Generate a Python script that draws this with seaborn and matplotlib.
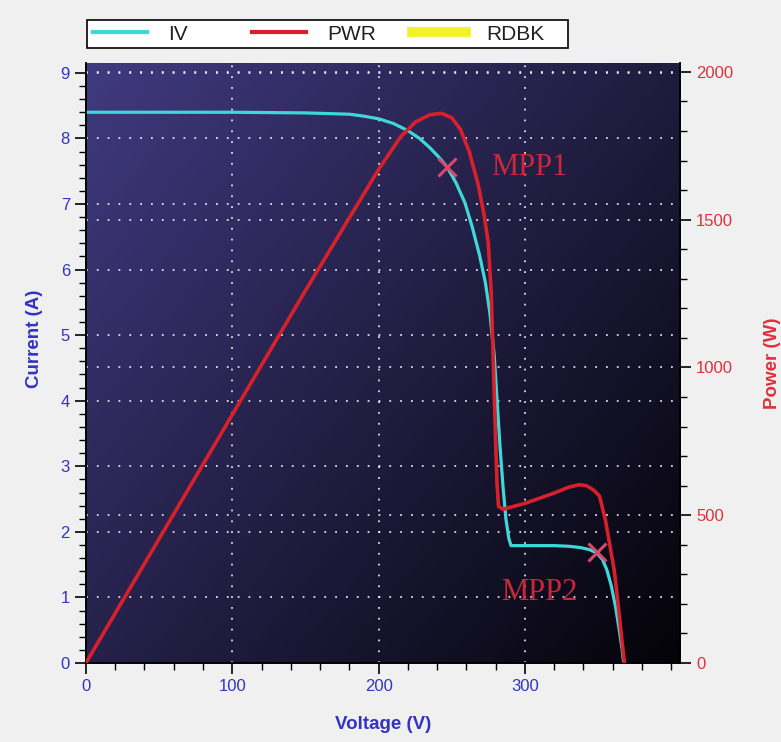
import numpy as np
import pandas as pd
import matplotlib
matplotlib.use("Agg")
import matplotlib.pyplot as plt
import seaborn as sns
from matplotlib.lines import Line2D
from matplotlib.patches import Rectangle
from matplotlib.ticker import MultipleLocator, FixedLocator

# IV curve
iv_volt = [0, 100, 150, 180, 190, 200, 210, 220, 228, 235, 241, 247, 253, 259, 264,
           269, 273, 276, 279, 281, 283, 285, 287, 289, 290.5, 300, 320, 330, 338,
           344, 349, 353, 356, 359, 362, 364.5, 366.5, 367.5]
iv_curr = [8.40, 8.40, 8.39, 8.37, 8.34, 8.30, 8.23, 8.12, 8.00, 7.86, 7.72, 7.56,
           7.32, 7.02, 6.65, 6.22, 5.80, 5.35, 4.70, 4.00, 3.30, 2.70, 2.20, 1.90,
           1.79, 1.79, 1.79, 1.78, 1.76, 1.73, 1.68, 1.58, 1.42, 1.18, 0.85, 0.50,
           0.20, 0.0]

# power curve
pw_volt = [0, 50, 100, 150, 200, 215, 225, 235, 243, 250, 256, 262, 268, 272, 275,
           277, 278.5, 280, 281, 282, 285, 300, 320, 330, 337, 342, 347, 351, 355,
           358, 361, 363, 366, 368]
pw_watt = [0, 420, 840, 1260, 1670, 1780, 1830, 1855, 1860, 1845, 1805, 1730, 1620,
           1520, 1420, 1250, 1000, 750, 600, 530, 520, 540, 575, 595, 603, 600, 585,
           565, 484, 400, 315, 230, 90, 0]

mpp_volt = [247, 349]
mpp_curr = [7.56, 1.70]
mpp_names = ["MPP1", "MPP2"]
mpp_text_volt = [277, 284]
mpp_text_curr = [7.56, 1.07]

legend_names = ["IV", "PWR", "RDBK"]
legend_colors = ["#3fd8d8", "#d8202a", "#f0f000"]

blue = "#3232c4"
red = "#e0303a"

iv_df = pd.DataFrame({"Voltage": iv_volt, "Current": iv_curr})
pw_df = pd.DataFrame({"Voltage": pw_volt, "Power": pw_watt})

plt.rcParams["font.family"] = ["Liberation Sans", "DejaVu Sans"]

fig = plt.figure(figsize=(7.81, 7.42), dpi=100, facecolor="#f0f0f0")
ax = fig.add_axes([0.110, 0.1065, 0.7607, 0.8085])
ax2 = ax.twinx()

xmax, ymax, pmax = 406, 9.15, 2030

# gradient background (light purple top-left to black bottom-right)
gx, gy = np.meshgrid(np.linspace(0, 1, 200), np.linspace(1, 0, 200))
t = np.clip(0.55 * gx + 0.45 * (1 - gy), 0, 1)
c0 = np.array([64, 58, 128]) / 255.0
c1 = np.array([4, 3, 8]) / 255.0
img = c0[None, None, :] * (1 - t[..., None]) + c1[None, None, :] * t[..., None]
ax.imshow(img, extent=[0, xmax, 0, ymax], aspect="auto", zorder=0, interpolation="bilinear")

grid_kw = dict(color="white", linestyle=(0, (1, 5)), linewidth=1.3, alpha=0.85)
for v in [100, 200, 300]:
    ax.axvline(v, zorder=1, **grid_kw)
for c in range(1, 10):
    ax.axhline(c, zorder=1, **grid_kw)
for p in [500, 1000, 1500, 2000]:
    ax2.axhline(p, zorder=1, **grid_kw)

sns.lineplot(data=iv_df, x="Voltage", y="Current", ax=ax, color=legend_colors[0],
             linewidth=2.3, sort=False, zorder=3)
sns.lineplot(data=pw_df, x="Voltage", y="Power", ax=ax2, color=legend_colors[1],
             linewidth=2.6, sort=False, zorder=3)

ax2.plot(mpp_volt, [c * pmax / ymax for c in mpp_curr], "x",
         color="#d84868", markersize=13, mew=2.2, zorder=5)
for name, tx, ty in zip(mpp_names, mpp_text_volt, mpp_text_curr):
    ax.text(tx, ty, name, color="#c8283c", fontsize=22,
            family=["Liberation Serif", "DejaVu Serif"], va="center", ha="left", zorder=6)

ax.set_xlim(0, xmax)
ax.set_ylim(0, ymax)
ax2.set_ylim(0, pmax)

ax.xaxis.set_major_locator(FixedLocator([0, 100, 200, 300]))
ax.xaxis.set_minor_locator(MultipleLocator(20))
ax.yaxis.set_major_locator(MultipleLocator(1))
ax.yaxis.set_minor_locator(MultipleLocator(0.2))
ax2.yaxis.set_major_locator(MultipleLocator(500))
ax2.yaxis.set_minor_locator(MultipleLocator(100))

ax.tick_params(axis="both", which="major", length=8, width=1.2, colors="black",
               labelsize=12, labelcolor=blue, direction="out")
ax.tick_params(axis="both", which="minor", length=5, width=1.0, colors="black", direction="out")
ax2.tick_params(axis="y", which="major", length=8, width=1.2, colors="black",
                labelsize=12, labelcolor=red, direction="out")
ax2.tick_params(axis="y", which="minor", length=5, width=1.0, colors="black", direction="out")

for a in (ax, ax2):
    for s in a.spines.values():
        s.set_color("black")
        s.set_linewidth(1.2)
    a.spines["top"].set_visible(False)

ax.set_xlabel("Voltage (V)", color=blue, fontsize=13.5, fontweight="bold", labelpad=16)
ax.set_ylabel("Current (A)", color=blue, fontsize=13.5, fontweight="bold")
ax.yaxis.set_label_coords(-0.072, 0.54)
ax2.set_ylabel("Power (W)", color=red, fontsize=13.5, fontweight="bold", labelpad=22)

# legend box above the plot: one entry per column, evenly spaced
fig.patches.append(Rectangle((0.111, 0.935), 0.616, 0.038, transform=fig.transFigure,
                             facecolor="white", edgecolor="black", linewidth=1.2,
                             zorder=1))
col_x = [0.119, 0.323, 0.527]
handles = [Line2D([], [], color=legend_colors[0], linewidth=3),
           Line2D([], [], color=legend_colors[1], linewidth=3),
           Line2D([], [], color=legend_colors[2], linewidth=7, alpha=0.85)]
for h, name, x0 in zip(handles, legend_names, col_x):
    lg = fig.legend([h], [name], loc="center left", bbox_to_anchor=(x0, 0.954),
                    frameon=False, fontsize=15, handlelength=2.6,
                    handletextpad=1.0, borderpad=0, borderaxespad=0)
    lg.set_zorder(2)
    for txt in lg.get_texts():
        txt.set_color("#202020")

fig.savefig("out.png", dpi=100, facecolor=fig.get_facecolor())
